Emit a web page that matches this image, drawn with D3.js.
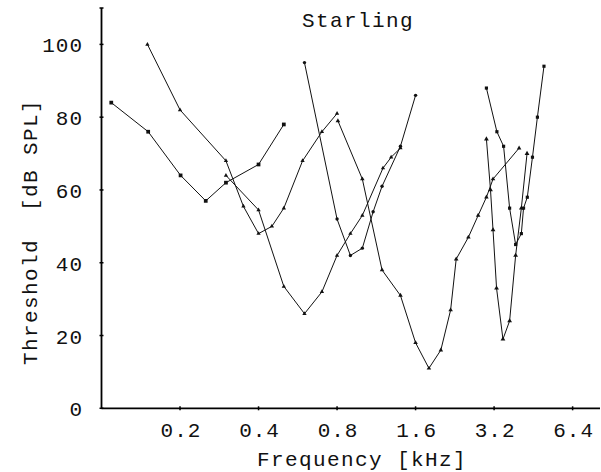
<!DOCTYPE html>
<html>
<head>
<meta charset="utf-8">
<script src="https://cdn.jsdelivr.net/npm/d3@7"></script>
<style>
  body { margin: 0; background: #fff; }
  text { font-family: "Liberation Mono", "DejaVu Sans Mono", monospace; fill: #111; white-space: pre; }
</style>
</head>
<body>
<svg width="601" height="472"></svg>
<script>
// tuning curves, [frequency kHz, threshold dB SPL]
const curveA = [[0.109, 84], [0.151, 76], [0.201, 64], [0.251, 57], [0.30, 62], [0.40, 67], [0.50, 78]];
const curveB = [[0.15, 100], [0.20, 82], [0.30, 68], [0.35, 55.5], [0.40, 48], [0.45, 50], [0.50, 55], [0.59, 68], [0.70, 76], [0.80, 81]];
const curveC = [[0.30, 64], [0.40, 54.5], [0.50, 33.5], [0.60, 26], [0.70, 32], [0.80, 42], [0.90, 48], [1.0, 53], [1.2, 66], [1.29, 69], [1.4, 71.5]];
const curveD = [[0.60, 95], [0.80, 52], [0.90, 42], [1.0, 44], [1.1, 54], [1.19, 61], [1.4, 72], [1.6, 86]];
const curveE = [[0.806, 79], [1.0, 63], [1.19, 38], [1.4, 31], [1.6, 18], [1.8, 11], [2.0, 16], [2.18, 27], [2.29, 41], [2.55, 47], [2.78, 53], [2.99, 58], [3.17, 63], [3.99, 71.5]];
const curveF = [[2.99, 88], [3.28, 76], [3.48, 72], [3.67, 55], [3.87, 45], [4.07, 48], [4.15, 55], [4.29, 58], [4.49, 69], [4.69, 80], [4.97, 94]];
const curveG = [[2.99, 74], [3.10, 60], [3.17, 49], [3.27, 33], [3.46, 19], [3.67, 24], [3.87, 42], [4.07, 55], [4.28, 70]];

const xTicks = [0.2, 0.4, 0.8, 1.6, 3.2, 6.4];
const yTicks = [0, 20, 40, 60, 80, 100];

const svg = d3.select("svg");

const x = d3.scaleLog().domain([0.1, 8.15]).range([101.5, 600]);
const y = d3.scaleLinear().domain([0, 110]).range([408.3, 8]);

// axes
svg.append("line")
  .attr("x1", x(0.1)).attr("x2", x(0.1))
  .attr("y1", y(110)).attr("y2", y(0))
  .attr("stroke", "#000").attr("stroke-width", 1.8);
svg.append("line")
  .attr("x1", x(0.1)).attr("x2", 600)
  .attr("y1", y(0)).attr("y2", y(0))
  .attr("stroke", "#000").attr("stroke-width", 1.8);

// tick marks
svg.selectAll(".ytick")
  .data(yTicks.concat([110]))
  .join("line")
  .attr("x1", x(0.1) - 2).attr("x2", x(0.1) + 2)
  .attr("y1", d => y(d)).attr("y2", d => y(d))
  .attr("stroke", "#000").attr("stroke-width", 1.5);
svg.selectAll(".xtick")
  .data(xTicks)
  .join("line")
  .attr("x1", d => x(d)).attr("x2", d => x(d))
  .attr("y1", y(0) - 2).attr("y2", y(0) + 2)
  .attr("stroke", "#000").attr("stroke-width", 1.5);

// tick labels
svg.selectAll(".ylab")
  .data(yTicks)
  .join("text")
  .attr("x", 83)
  .attr("y", d => y(d) + 8)
  .attr("text-anchor", "end")
  .style("font-size", "21px")
  .style("letter-spacing", "1px")
  .text(d => d);

svg.selectAll(".xlab")
  .data(xTicks)
  .join("text")
  .attr("x", d => x(d) + 1)
  .attr("y", 437)
  .attr("text-anchor", "middle")
  .style("font-size", "21px")
  .style("letter-spacing", "1px")
  .text(d => d);

// titles
svg.append("text")
  .attr("x", 358).attr("y", 27)
  .attr("text-anchor", "middle")
  .style("font-size", "21px")
  .style("letter-spacing", "1.4px")
  .text("Starling");

svg.append("text")
  .attr("x", 362).attr("y", 466)
  .attr("text-anchor", "middle")
  .style("font-size", "21px")
  .style("letter-spacing", "1.4px")
  .text("Frequency [kHz]");

svg.append("text")
  .attr("transform", "translate(37,232) rotate(-90)")
  .attr("text-anchor", "middle")
  .style("font-size", "21px")
  .style("letter-spacing", "1.4px")
  .text("Threshold  [dB SPL]");

// curves
const line = d3.line()
  .x(d => x(d[0]))
  .y(d => y(d[1]));

const series = [
  {data: curveA, sym: d3.symbolSquare, size: 14},
  {data: curveB, sym: d3.symbolTriangle, size: 8},
  {data: curveC, sym: d3.symbolTriangle, size: 8},
  {data: curveD, sym: d3.symbolCircle, size: 9},
  {data: curveE, sym: d3.symbolTriangle, size: 9},
  {data: curveF, sym: d3.symbolSquare, size: 10},
  {data: curveG, sym: d3.symbolTriangle, size: 10}
];

series.forEach(s => {
  svg.append("path")
    .datum(s.data)
    .attr("fill", "none")
    .attr("stroke", "#111")
    .attr("stroke-width", 1)
    .attr("d", line);

  svg.append("g").selectAll("path")
    .data(s.data)
    .join("path")
    .attr("transform", d => `translate(${x(d[0])},${y(d[1])})`)
    .attr("d", d3.symbol().type(s.sym).size(s.size))
    .attr("fill", "#111");
});
</script>
</body>
</html>
